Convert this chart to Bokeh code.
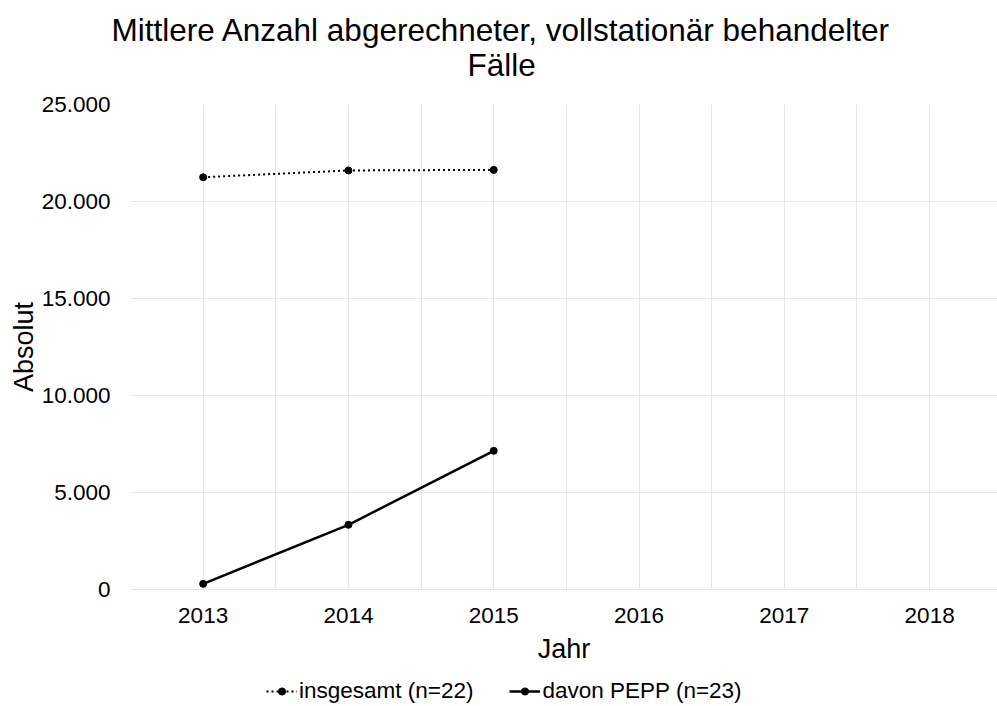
from bokeh.plotting import figure
from bokeh.models import Range1d, Legend, LegendItem, FixedTicker, Title
from bokeh.layouts import column
from bokeh.embed import file_html
from bokeh.resources import INLINE

years = [2013, 2014, 2015]
insgesamt = [21250, 21600, 21630]
pepp = [290, 3335, 7150]
x_ticks = [2013, 2014, 2015, 2016, 2017, 2018]
y_ticks = [0, 5000, 10000, 15000, 20000, 25000]
y_tick_labels = ["0", "5.000", "10.000", "15.000", "20.000", "25.000"]
title_lines = ["Mittlere Anzahl abgerechneter, vollstationär behandelter", "Fälle"]
series_names = ["insgesamt (n=22)", "davon PEPP (n=23)"]

FONT = "Liberation Sans"
GRID = "#e6e6e6"

# ---------- main chart ----------
p = figure(width=997, height=676, output_backend="svg", toolbar_location=None, title=None,
           x_range=Range1d(2012.5, 2018.467), y_range=Range1d(0, 25000),
           min_border_left=130, min_border_right=0, min_border_top=104, min_border_bottom=87)
p.outline_line_color = None

# title lines (second line added first so it sits nearer the plot)
p.add_layout(Title(text=title_lines[1], align="left", offset=337, standoff=43,
                   text_font=FONT, text_font_size="31.5px", text_font_style="normal",
                   text_color="black"), "above")
p.add_layout(Title(text=title_lines[0], align="left", offset=-19, standoff=-48,
                   text_font=FONT, text_font_size="31.5px", text_font_style="normal",
                   text_color="black"), "above")

p.xgrid.ticker = FixedTicker(ticks=[2012.5 + 0.5 * i for i in range(13)])
p.xgrid.grid_line_color = GRID
p.ygrid.ticker = FixedTicker(ticks=y_ticks)
p.ygrid.grid_line_color = GRID

p.xaxis.ticker = FixedTicker(ticks=x_ticks)
p.yaxis.ticker = FixedTicker(ticks=y_ticks)
p.yaxis.major_label_overrides = {tk: lb for tk, lb in zip(y_ticks, y_tick_labels)}
for ax in (p.xaxis[0], p.yaxis[0]):
    ax.major_tick_line_color = None
    ax.minor_tick_line_color = None
    ax.major_tick_out = 0
    ax.major_tick_in = 0
    ax.minor_tick_out = 0
    ax.minor_tick_in = 0
    ax.major_label_text_font = FONT
    ax.major_label_text_font_size = "22.5px"
    ax.major_label_text_color = "black"
    ax.axis_label_text_font = FONT
    ax.axis_label_text_font_size = "27px"
    ax.axis_label_text_font_style = "normal"
    ax.axis_label_text_color = "black"
p.xaxis.axis_line_color = GRID
p.yaxis.axis_line_color = None
p.xaxis.axis_label = "Jahr"
p.yaxis.axis_label = "Absolut"
p.xaxis.major_label_standoff = 18
p.yaxis.major_label_standoff = 20
p.xaxis.axis_label_standoff = 8
p.yaxis.axis_label_standoff = 0

p.line(years, insgesamt, line_color="black", line_width=2, line_dash="2 3")
p.scatter(years, insgesamt, size=7, color="black")
p.line(years, pepp, line_color="black", line_width=2.5)
p.scatter(years, pepp, size=7, color="black")

# ---------- legend strip (its frame is aligned with the chart frame) ----------
lg = figure(width=997, height=30, output_backend="svg", toolbar_location=None,
            x_range=Range1d(0, 1), y_range=Range1d(0, 1),
            x_axis_location=None, y_axis_location=None,
            min_border_left=130, min_border_right=0, min_border_top=0, min_border_bottom=0)
lg.grid.visible = False
lg.outline_line_color = None
# same series drawn outside this strip's visible range, only to feed the legend
d1 = lg.line(years, insgesamt, line_color="black", line_width=2, line_dash="2 3")
e1 = lg.scatter(years, insgesamt, color="black")
d2 = lg.line(years, pepp, line_color="black", line_width=2.5)
e2 = lg.scatter(years, pepp, color="black")
legend = Legend(items=[LegendItem(label=series_names[0], renderers=[d1, e1]),
                       LegendItem(label=series_names[1], renderers=[d2, e2])],
                orientation="horizontal", location=(136, 2),
                label_text_font=FONT, label_text_font_size="22.5px", label_text_color="black",
                glyph_width=31, glyph_height=18, label_standoff=2, spacing=36,
                padding=0, margin=0, border_line_color=None, background_fill_alpha=0)
lg.add_layout(legend, "center")

open("out.html", "w").write(file_html(column(p, lg, spacing=0), INLINE))
